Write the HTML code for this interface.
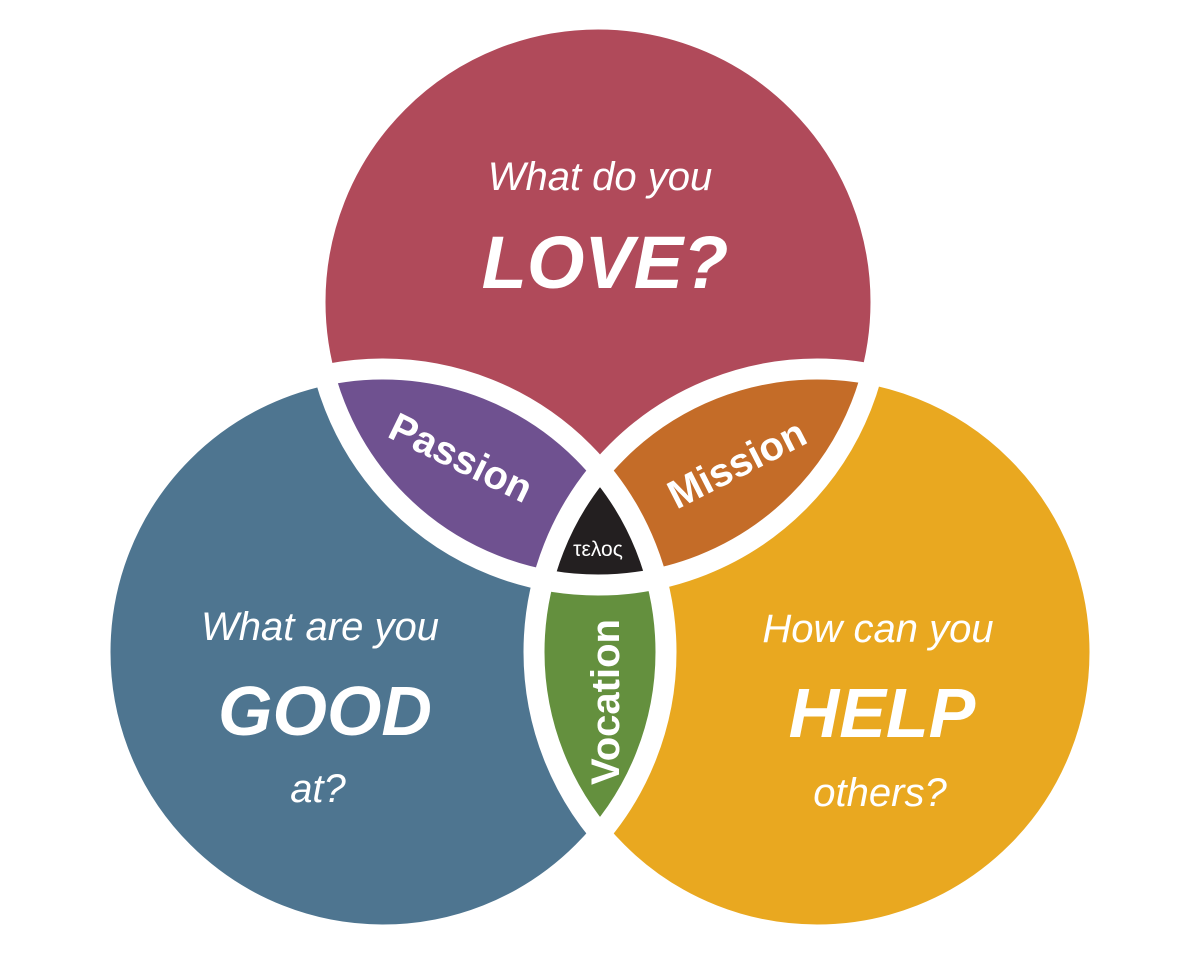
<!DOCTYPE html>
<html><head><meta charset="utf-8"><style>
html,body{margin:0;padding:0;background:#fff;}
svg{display:block;}
text{font-family:"Liberation Sans","DejaVu Sans",sans-serif;fill:#fff;}
</style></head><body>
<svg width="1200" height="954" viewBox="0 0 1200 954" xmlns="http://www.w3.org/2000/svg">
<defs>
<clipPath id="cR"><circle cx="598" cy="302" r="283"/></clipPath>
<clipPath id="cB"><circle cx="383" cy="652" r="283"/></clipPath>
<clipPath id="cY"><circle cx="817" cy="652" r="283"/></clipPath>
</defs>
<circle cx="598" cy="302" r="283" fill="#b04a5a"/>
<circle cx="383" cy="652" r="283" fill="#4e7590"/>
<circle cx="817" cy="652" r="283" fill="#e9a820"/>
<g clip-path="url(#cR)"><circle cx="383" cy="652" r="283" fill="#6f5190"/><circle cx="817" cy="652" r="283" fill="#c46c28"/></g>
<g clip-path="url(#cB)"><circle cx="817" cy="652" r="283" fill="#64903e"/></g>
<g clip-path="url(#cR)"><g clip-path="url(#cB)"><circle cx="817" cy="652" r="283" fill="#231f20"/></g></g>
<g fill="none" stroke="#fff" stroke-width="21">
<circle cx="598" cy="302" r="283"/>
<circle cx="383" cy="652" r="283"/>
<circle cx="817" cy="652" r="283"/>
</g>
<text x="600" y="190" font-size="40" font-style="italic" text-anchor="middle">What do you</text>
<text x="605" y="288" font-size="74" font-style="italic" font-weight="bold" text-anchor="middle">LOVE?</text>
<text x="320" y="640" font-size="40" font-style="italic" text-anchor="middle">What are you</text>
<text x="325" y="735" font-size="70" font-style="italic" font-weight="bold" text-anchor="middle">GOOD</text>
<text x="318" y="802" font-size="40" font-style="italic" text-anchor="middle">at?</text>
<text x="878" y="642" font-size="40" font-style="italic" text-anchor="middle">How can you</text>
<text x="882" y="737" font-size="70" font-style="italic" font-weight="bold" text-anchor="middle">HELP</text>
<text x="880" y="806" font-size="40" font-style="italic" text-anchor="middle">others?</text>
<text transform="translate(455,470) rotate(26)" font-size="40" font-weight="bold" text-anchor="middle">Passion</text>
<text transform="translate(743,476) rotate(-27)" font-size="40" font-weight="bold" text-anchor="middle">Mission</text>
<text transform="translate(619,702) rotate(-90)" font-size="40" font-weight="bold" text-anchor="middle">Vocation</text>
<text x="598" y="556" font-size="21" text-anchor="middle">τελος</text>
</svg>
</body></html>
